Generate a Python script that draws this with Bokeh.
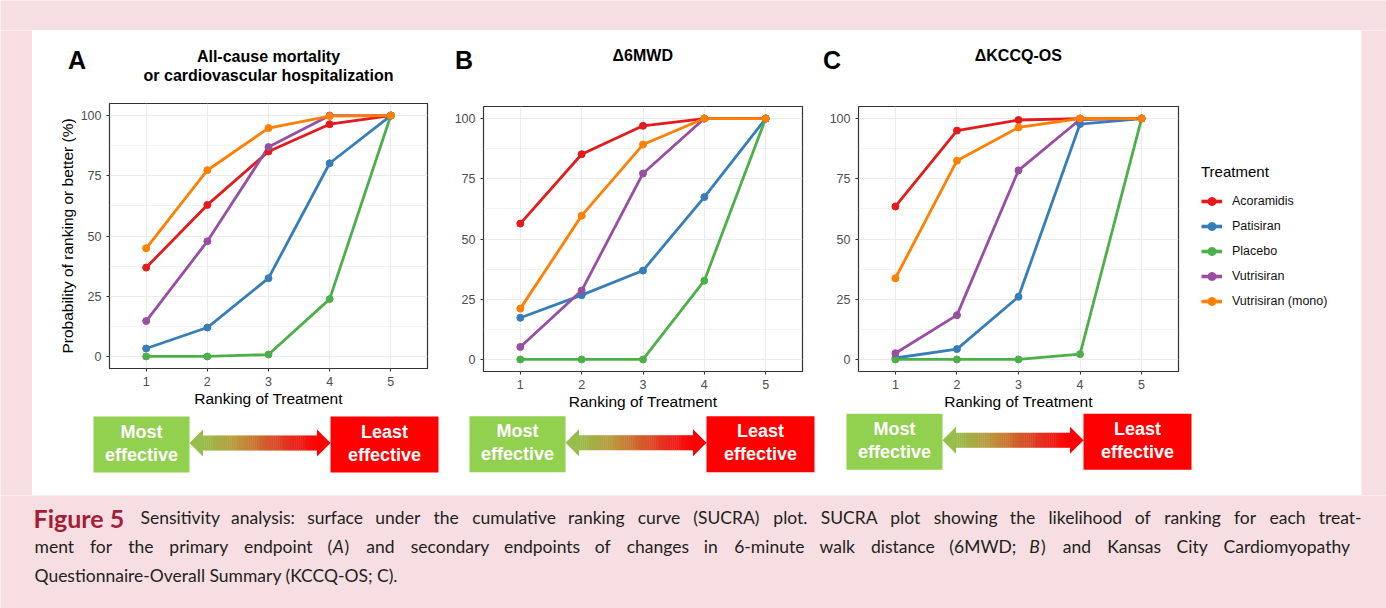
from bokeh.plotting import figure
from bokeh.layouts import row, column
from bokeh.models import Range1d, FixedTicker, Legend, LegendItem
from bokeh.embed import file_html
from bokeh.resources import INLINE
from bokeh.core.properties import value

# ---------------- data ----------------
RANKS = [1, 2, 3, 4, 5]
TREATMENTS = ["Acoramidis", "Patisiran", "Placebo", "Vutrisiran", "Vutrisiran (mono)"]
COLORS = ["#E41A1C", "#377EB8", "#4DAF4A", "#984EA3", "#FF7F00"]

# Panel A: All-cause mortality or CV hospitalization
A_ACORAMIDIS = [36.9, 62.9, 85.1, 96.4, 100]
A_PATISIRAN = [3.3, 12.0, 32.5, 80.2, 100]
A_PLACEBO = [0.0, 0.0, 0.8, 23.8, 100]
A_VUTRISIRAN = [14.7, 47.8, 86.9, 100, 100]
A_VUTRISIRAN_MONO = [44.9, 77.3, 94.8, 99.8, 100]

# Panel B: delta 6MWD
B_ACORAMIDIS = [56.4, 85.2, 97.0, 100, 100]
B_PATISIRAN = [17.3, 26.7, 36.9, 67.4, 100]
B_PLACEBO = [0.0, 0.0, 0.0, 32.7, 100]
B_VUTRISIRAN = [5.2, 28.6, 77.2, 100, 100]
B_VUTRISIRAN_MONO = [21.1, 59.7, 89.2, 100, 100]

# Panel C: delta KCCQ-OS
C_ACORAMIDIS = [63.5, 95.0, 99.4, 100, 100]
C_PATISIRAN = [0.6, 4.3, 26.0, 97.7, 100]
C_PLACEBO = [0.0, 0.0, 0.0, 2.2, 100]
C_VUTRISIRAN = [2.6, 18.4, 78.5, 99.6, 100]
C_VUTRISIRAN_MONO = [33.7, 82.5, 96.3, 100, 100]

Y_TICKS = [0, 25, 50, 75, 100]
Y_MINOR = [12.5, 37.5, 62.5, 87.5]

TITLE_A = ["All-cause mortality", "or cardiovascular hospitalization"]
TITLE_B = ["\u03946MWD"]
TITLE_C = ["\u0394KCCQ-OS"]
X_LABEL = "Ranking of Treatment"
Y_LABEL = "Probability of ranking or better (%)"
LEGEND_TITLE = "Treatment"

# caption; _X_ marks italic letters
CAPTION_HEAD = "Figure 5"
CAPTION_L1 = ("Sensitivity analysis: surface under the cumulative ranking curve (SUCRA) plot. "
              "SUCRA plot showing the likelihood of ranking for each treat-")
CAPTION_L2 = ("ment for the primary endpoint (_A_) and secondary endpoints of changes in 6-minute "
              "walk distance (6MWD; _B_) and Kansas City Cardiomyopathy")
CAPTION_L3 = "Questionnaire-Overall Summary (KCCQ-OS; C)."

# ---------------- styling ----------------
PINK = "#f6dee2"
FONT = "Liberation Sans"
CAP_FONT = "Lato"
CAP_SIZE = 17.5
GREEN_BOX = "#92d050"
RED_BOX = "#ff0000"

HH = 60    # header (letter + title) height
PH = 322   # plot height
AH = 83    # arrow strip height
MID_H = HH + PH + AH
FRAME_H = 265


def blank(w, h, color=PINK):
    p = figure(width=w, height=h, toolbar_location=None, output_backend="svg",
               min_border=0, x_range=Range1d(0, w), y_range=Range1d(h, 0),
               x_axis_location=None, y_axis_location=None, frame_align=False)
    p.grid.visible = False
    p.outline_line_color = None
    p.background_fill_color = color
    p.border_fill_color = color
    return p


def header(width, letter, letter_xy, title_lines, title_x, title_y):
    h = blank(width, HH, "white")
    h.text(x=[letter_xy[0]], y=[letter_xy[1]], text=[letter], text_align="center",
           text_baseline="middle", text_font=value(FONT), text_font_style="bold",
           text_font_size="25px", text_color="black")
    h.text(x=[title_x] * len(title_lines), y=title_y, text=title_lines, text_align="center",
           text_baseline="middle", text_font=value(FONT), text_font_style="bold",
           text_font_size="16px", text_color="black")
    return h


def panel(series, width, ml, mr, mt, ylabel=None):
    mb = PH - FRAME_H - mt
    p = figure(width=width, height=PH, x_range=Range1d(0.4, 5.6), y_range=Range1d(-5, 105),
               toolbar_location=None, output_backend="svg", frame_align=False,
               min_border_left=ml, min_border_right=mr, min_border_top=mt, min_border_bottom=mb)
    p.background_fill_color = "white"
    p.border_fill_color = "white"
    p.outline_line_color = "#333333"
    p.outline_line_width = 1.2

    p.xaxis.ticker = FixedTicker(ticks=RANKS)
    p.yaxis.ticker = FixedTicker(ticks=Y_TICKS, minor_ticks=Y_MINOR)
    for ax in (p.xaxis[0], p.yaxis[0]):
        ax.axis_line_color = None
        ax.major_tick_line_color = "#333333"
        ax.major_tick_line_width = 1.1
        ax.major_tick_out = 3
        ax.major_tick_in = 0
        ax.minor_tick_line_color = None
        ax.major_label_text_font = FONT
        ax.major_label_text_font_size = "12.5px"
        ax.major_label_text_color = "#4d4d4d"
        ax.axis_label_text_font = FONT
        ax.axis_label_text_font_size = "15.5px"
        ax.axis_label_text_font_style = "normal"
        ax.axis_label_text_color = "black"
    p.xaxis.major_label_standoff = 5
    p.xaxis.axis_label_standoff = 1
    p.yaxis.major_label_standoff = 4
    p.yaxis.axis_label_standoff = 2
    p.xaxis.axis_label = X_LABEL
    if ylabel:
        p.yaxis.axis_label = ylabel

    p.xgrid.grid_line_color = "#ebebeb"
    p.xgrid.grid_line_width = 1.1
    p.ygrid.grid_line_color = "#ebebeb"
    p.ygrid.grid_line_width = 1.1
    p.ygrid.minor_grid_line_color = "#ebebeb"
    p.ygrid.minor_grid_line_width = 0.6

    for vals, col in zip(series, COLORS):
        p.line(RANKS, vals, line_color=col, line_width=2.8)
    for vals, col in zip(series, COLORS):
        p.scatter(RANKS, vals, size=7, fill_color=col, line_color=col)
    return p


def legend_fig(width):
    p = blank(width, PH, "white")
    items = []
    for name, col in zip(TREATMENTS, COLORS):
        # key renderers sit outside the visible frame; only their legend glyphs show
        lr = p.line(x=[-60, -50], y=[-60, -60], line_color=col, line_width=3.6)
        sr = p.scatter(x=[-55], y=[-60], size=6, fill_color=col, line_color=col)
        items.append(LegendItem(label=name, renderers=[lr, sr]))
    leg = Legend(items=items, title=LEGEND_TITLE, location=(16, 101),
                 title_text_font=FONT, title_text_font_size="15px",
                 title_text_font_style="normal", title_text_color="black",
                 label_text_font=FONT, label_text_font_size="12.5px", label_text_color="#111111",
                 glyph_width=21, glyph_height=20, label_height=20, spacing=5,
                 label_standoff=10, title_standoff=11, padding=0, margin=0,
                 border_line_color=None, background_fill_alpha=0)
    p.add_layout(leg)
    return p


def lerp_color(stops, t):
    for (t0, c0), (t1, c1) in zip(stops[:-1], stops[1:]):
        if t0 <= t <= t1:
            f = (t - t0) / (t1 - t0) if t1 > t0 else 0
            c = [round(a + (b - a) * f) for a, b in zip(c0, c1)]
            return "#%02x%02x%02x" % tuple(c)
    return "#%02x%02x%02x" % tuple(stops[-1][1])


GRAD = [(0.0, (150, 190, 76)), (0.3, (188, 152, 62)), (0.5, (206, 104, 46)),
        (0.78, (232, 40, 30)), (1.0, (255, 0, 0))]


def arrow_strip(width, gx, top):
    p = blank(width, AH, "white")
    bw_g, bw_r, bh, gap = 96, 108, 56, 141
    x0 = gx + bw_g
    x1 = x0 + gap
    cy = top + 26.5
    p.quad(left=[gx], right=[x0], top=[top], bottom=[top + bh], fill_color=GREEN_BOX, line_color=None)
    p.quad(left=[x1], right=[x1 + bw_r], top=[top], bottom=[top + bh], fill_color=RED_BOX, line_color=None)
    hl, hh, sh = 13, 13.5, 7.5
    n = 60
    xs0 = x0 + hl
    xs1 = x1 - hl
    step = (xs1 - xs0) / n
    lefts = [xs0 + i * step for i in range(n)]
    rights = [xs0 + (i + 1) * step + 0.4 for i in range(n)]
    cols = [lerp_color(GRAD, (i + 0.5) / n) for i in range(n)]
    p.quad(left=lefts, right=rights, top=[cy - sh] * n, bottom=[cy + sh] * n,
           fill_color=cols, line_color=None)
    p.patch([x0, xs0 + 0.5, xs0 + 0.5], [cy, cy - hh, cy + hh], fill_color=lerp_color(GRAD, 0), line_color=None)
    p.patch([x1, xs1 - 0.5, xs1 - 0.5], [cy, cy - hh, cy + hh], fill_color=lerp_color(GRAD, 1), line_color=None)
    p.text(x=[(gx + x0) / 2] * 2 + [x1 + bw_r / 2] * 2,
           y=[cy - 11.5, cy + 11.5, cy - 11.5, cy + 11.5],
           text=["Most", "effective", "Least", "effective"],
           text_align="center", text_baseline="middle", text_font=value(FONT),
           text_font_style="bold", text_font_size="18px", text_color="white")
    return p


# rough advance widths (em) used to lay out the caption words
_W = {" ": 0.193, "a": 0.49, "b": 0.55, "c": 0.45, "d": 0.55, "e": 0.51, "f": 0.32, "g": 0.50,
      "h": 0.55, "i": 0.23, "j": 0.23, "k": 0.50, "l": 0.23, "m": 0.82, "n": 0.55, "o": 0.55,
      "p": 0.55, "q": 0.55, "r": 0.36, "s": 0.41, "t": 0.34, "u": 0.55, "v": 0.50, "w": 0.76,
      "x": 0.49, "y": 0.50, "z": 0.44, "(": 0.30, ")": 0.30, ".": 0.23, ",": 0.23, ":": 0.23,
      ";": 0.23, "-": 0.35, "M": 0.87, "W": 0.98, "O": 0.78, "Q": 0.78, "I": 0.27, "S": 0.53}


def est(word, size):
    word = word.replace("_", "")
    return sum(_W.get(ch, 0.58 if ch.isdigit() else 0.66) for ch in word) * size


def place_words(p, words, xs, y, size):
    normal_x, normal_t, ital_x, ital_t = [], [], [], []
    for w, x in zip(words, xs):
        for k, seg in enumerate(w.split("_")):
            if seg:
                if k % 2:
                    ital_x.append(x)
                    ital_t.append(seg)
                else:
                    normal_x.append(x)
                    normal_t.append(seg)
            x += est(seg, size)
    kw = dict(text_align="left", text_baseline="alphabetic", text_font=value(CAP_FONT),
              text_font_size="%spx" % size, text_color="#231f20")
    p.text(x=normal_x, y=[y] * len(normal_x), text=normal_t, **kw)
    if ital_x:
        p.text(x=ital_x, y=[y] * len(ital_x), text=ital_t, text_font_style="italic", **kw)


def caption_line(p, text, x_start, x_end, y, size):
    """Justified caption line: words spread so the line fills x_start..x_end."""
    words = text.split(" ")
    widths = [est(w, size) for w in words]
    gap = (x_end - x_start - sum(widths)) / (len(words) - 1)
    xs, pos = [], x_start
    for w in widths:
        xs.append(pos)
        pos += w + gap
    xs[-1] = x_end - widths[-1]
    place_words(p, words, xs, y, size)


# ---------------- panels ----------------
SER_A = [A_ACORAMIDIS, A_PATISIRAN, A_PLACEBO, A_VUTRISIRAN, A_VUTRISIRAN_MONO]
SER_B = [B_ACORAMIDIS, B_PATISIRAN, B_PLACEBO, B_VUTRISIRAN, B_VUTRISIRAN_MONO]
SER_C = [C_ACORAMIDIS, C_PATISIRAN, C_PLACEBO, C_VUTRISIRAN, C_VUTRISIRAN_MONO]

hA = header(414, "A", (44.5, 29), TITLE_A, 236, [25.7, 45])
hB = header(376, "B", (17.5, 29.5), TITLE_B, 196.3, [25])
hC = header(539, "C", (9.5, 29.5), TITLE_C, 195.8, [25])

pA = panel(SER_A, 414, 77, 19, 13, ylabel=Y_LABEL)
pB = panel(SER_B, 376, 37, 20, 16)
pC = panel(SER_C, 363, 36, 7, 16)
lg = legend_fig(176)

aA = arrow_strip(414, 61, 4)
aB = arrow_strip(376, 23, 3.7)
aC = arrow_strip(539, 24, 1.3)

top = blank(1386, 30)
left = blank(32, MID_H)
right = blank(25, MID_H)

cap = blank(1386, 113)
cap.text(x=[33], y=[22], text=[CAPTION_HEAD], text_align="left", text_baseline="alphabetic",
         text_font=value(CAP_FONT), text_font_style="bold", text_font_size="25px", text_color="#a51d36")
caption_line(cap, CAPTION_L1, 140, 1360, 22, CAP_SIZE)
caption_line(cap, CAPTION_L2, 34, 1348, 51, CAP_SIZE)
cap.text(x=[34], y=[80], text=[CAPTION_L3], text_align="left", text_baseline="alphabetic",
         text_font=value(CAP_FONT), text_font_size="%spx" % CAP_SIZE, text_color="#231f20")

layout = column(top,
                row(left,
                    column(hA, pA, aA),
                    column(hB, pB, aB),
                    column(hC, row(pC, lg), aC),
                    right),
                cap)

open("out.html", "w").write(file_html(layout, INLINE))
